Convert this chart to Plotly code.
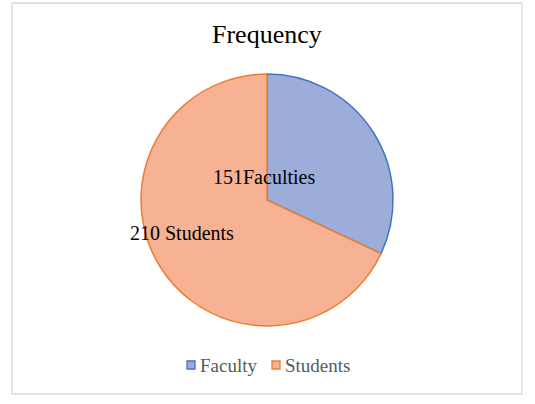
import plotly.graph_objects as go

categories = ["Faculty", "Students"]
shares = [32, 68]
label_texts = ["151Faculties", "210 Students"]

fill_colors = ["#9cadda", "#f6b293"]
edge_colors = ["#4472c4", "#ed7d31"]

W, H = 535, 404
SERIF = "Liberation Serif"

fig = go.Figure()

fig.add_trace(
    go.Pie(
        labels=categories,
        values=shares,
        sort=False,
        direction="clockwise",
        rotation=0,
        textinfo="none",
        hoverinfo="label+value",
        showlegend=False,
        marker=dict(colors=fill_colors, line=dict(color=edge_colors, width=1.5)),
        domain=dict(x=[141 / W, 393 / W], y=[1 - 326 / H, 1 - 74 / H]),
    )
)

# data labels placed like the original
label_pos = [(264, 177), (182, 233)]
for txt, (px_, py_) in zip(label_texts, label_pos):
    fig.add_annotation(
        x=px_ / W, y=1 - py_ / H, xref="paper", yref="paper",
        xanchor="center", yanchor="middle",
        text=txt, showarrow=False,
        font=dict(family=SERIF, size=20, color="#000000"),
    )

fig.add_annotation(
    x=267 / W, y=1 - 35 / H, xref="paper", yref="paper",
    xanchor="center", yanchor="middle",
    text="Frequency", showarrow=False,
    font=dict(family=SERIF, size=26, color="#000000"),
)

# Excel-style legend: small square key + text right next to it
legend_x = [187, 272]
legend_y = 365
for name, fc, ec, lx in zip(categories, fill_colors, edge_colors, legend_x):
    fig.add_shape(
        type="rect", xref="paper", yref="paper",
        x0=lx / W, x1=(lx + 8) / W,
        y0=1 - (legend_y + 4) / H, y1=1 - (legend_y - 4) / H,
        fillcolor=fc, line=dict(color=ec, width=1.3),
    )
    fig.add_annotation(
        x=(lx + 11) / W, y=1 - legend_y / H, xref="paper", yref="paper",
        xanchor="left", yanchor="middle",
        text=name, showarrow=False,
        font=dict(family=SERIF, size=19, color="#595959"),
    )

# chart area border
fig.add_shape(
    type="rect", xref="paper", yref="paper",
    x0=12 / W, x1=522 / W, y0=1 - 394 / H, y1=1 - 3 / H,
    line=dict(color="#d9d9d9", width=1.3),
)

fig.update_layout(
    width=W,
    height=H,
    margin=dict(l=0, r=0, t=0, b=0),
    paper_bgcolor="white",
    plot_bgcolor="white",
    showlegend=False,
)

# drop the default page margin so the figure sits at the window origin
fig.write_html(
    "out.html",
    config={"displayModeBar": False},
    post_script="document.body.style.margin='0';",
)
